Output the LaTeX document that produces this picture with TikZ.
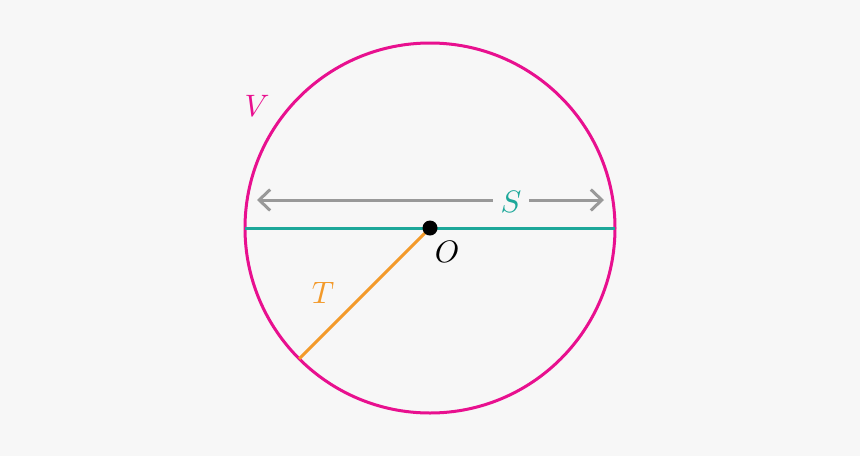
\documentclass[tikz,border=0pt]{standalone}
\usetikzlibrary{arrows.meta}
\definecolor{bg}{HTML}{F7F7F7}
\definecolor{vpink}{HTML}{E8108F}
\definecolor{steal}{HTML}{1DA89A}
\definecolor{torange}{HTML}{F39A2A}
\definecolor{agray}{HTML}{999999}
\begin{document}
\begin{tikzpicture}[x=1pt,y=-1pt,
  lab/.style={inner sep=1pt, scale=3.1},
  thick line/.style={line width=3pt}]
\fill[bg] (0,0) rectangle (860,456);
\useasboundingbox (0,0) rectangle (860,456);
\coordinate (O) at (430,228);
\coordinate (L) at (245,228);
\coordinate (R) at (615,228);
\coordinate (P) at (299.2,358.8);
\coordinate (A1) at (257,200);
\coordinate (A2) at (604,200);
\draw[thick line, vpink] (O) circle[radius=185];
\draw[thick line, steal] (L) -- (R);
\draw[thick line, torange] (O) -- (P);
\draw[thick line, agray, {Straight Barb[length=11pt,width=21pt]}-{Straight Barb[length=11pt,width=21pt]}] (A1) -- (A2);
\node[lab, fill=bg, text=steal, inner xsep=2.5pt] (S) at (511,202) {$S$};
\fill[black] (O) circle[radius=7.5];
\node[lab, text=vpink] (V) at (257,106) {$V$};
\node[lab, text=black] (Olab) at (447,252) {$O$};
\node[lab, text=torange] (T) at (323,293) {$T$};
\end{tikzpicture}
\end{document}
